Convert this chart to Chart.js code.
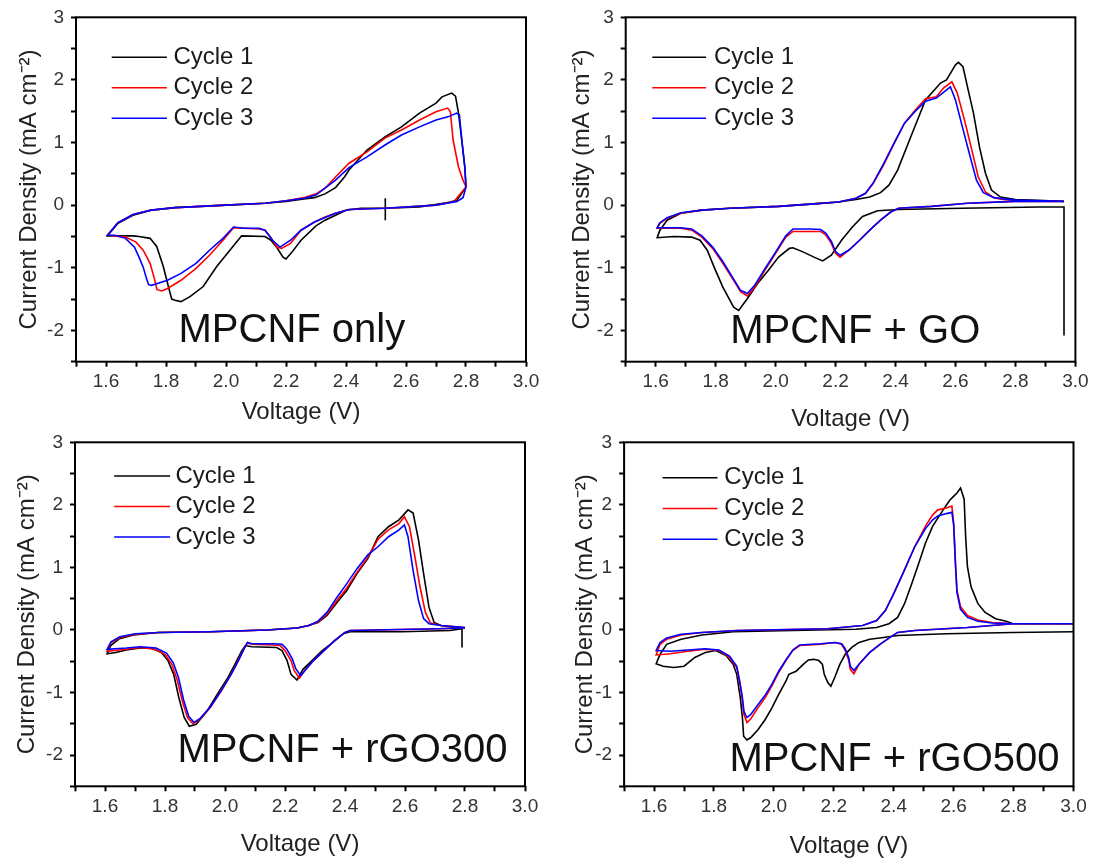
<!DOCTYPE html>
<html>
<head>
<meta charset="utf-8">
<script src="https://cdn.jsdelivr.net/npm/chart.js@4.4.1/dist/chart.umd.min.js"></script>
<style>
html,body{margin:0;padding:0;background:#fff;}
body{width:1096px;height:862px;position:relative;overflow:hidden;}
canvas{position:absolute;}
</style>
</head>
<body>
<canvas id="c1"></canvas>
<canvas id="c2"></canvas>
<canvas id="c3"></canvas>
<canvas id="c4"></canvas>
<script>
// ---------------- DATA (voltage V, current density mA cm^-2) ----------------
const cycleLabels = ['Cycle 1', 'Cycle 2', 'Cycle 3'];
const panelTitles = ['MPCNF only', 'MPCNF + GO', 'MPCNF + rGO300', 'MPCNF + rGO500'];
const xTickValues = [1.6, 1.8, 2.0, 2.2, 2.4, 2.6, 2.8, 3.0];
const yTickValues = [3, 2, 1, 0, -1, -2];

// Panel 1: MPCNF only
const onlyCycle1 = [[2.531,0.11],[2.531,-0.24],[2.531,-0.05],[2.45,-0.05],[2.40,-0.08],[2.33,-0.24],[2.30,-0.33],[2.25,-0.56],[2.22,-0.75],[2.20,-0.86],[2.19,-0.83],[2.17,-0.68],[2.15,-0.56],[2.13,-0.5],[2.052,-0.49],[2.013,-0.72],[1.969,-0.98],[1.924,-1.3],[1.88,-1.46],[1.85,-1.54],[1.83,-1.52],[1.819,-1.5],[1.808,-1.3],[1.791,-0.98],[1.769,-0.66],[1.747,-0.53],[1.71,-0.5],[1.69,-0.49],[1.605,-0.49],[1.64,-0.29],[1.69,-0.16],[1.75,-0.08],[1.83,-0.04],[2.0,0.0],[2.13,0.03],[2.2,0.06],[2.26,0.1],[2.295,0.12],[2.33,0.18],[2.365,0.28],[2.395,0.45],[2.41,0.56],[2.47,0.88],[2.53,1.09],[2.585,1.25],[2.645,1.47],[2.70,1.63],[2.72,1.73],[2.752,1.79],[2.765,1.74],[2.775,1.47],[2.786,1.04],[2.796,0.61],[2.8,0.29],[2.77,0.08],[2.74,0.04],[2.645,-0.03],[2.531,-0.05]];
const onlyCycle2 = [[2.8,0.29],[2.76,0.06],[2.70,0.0],[2.53,-0.05],[2.41,-0.07],[2.365,-0.13],[2.33,-0.19],[2.295,-0.27],[2.25,-0.4],[2.215,-0.61],[2.185,-0.69],[2.17,-0.67],[2.15,-0.52],[2.13,-0.4],[2.11,-0.38],[2.06,-0.37],[2.025,-0.36],[1.99,-0.56],[1.945,-0.8],[1.90,-1.01],[1.85,-1.2],[1.805,-1.33],[1.786,-1.37],[1.77,-1.35],[1.76,-1.15],[1.747,-0.93],[1.724,-0.72],[1.70,-0.59],[1.665,-0.51],[1.605,-0.48],[1.64,-0.28],[1.69,-0.15],[1.75,-0.08],[1.83,-0.04],[2.0,0.0],[2.13,0.03],[2.2,0.07],[2.26,0.12],[2.30,0.18],[2.33,0.27],[2.365,0.45],[2.41,0.67],[2.47,0.85],[2.53,1.07],[2.585,1.2],[2.645,1.36],[2.70,1.49],[2.739,1.55],[2.748,1.49],[2.757,1.04],[2.775,0.61],[2.79,0.4],[2.8,0.29]];
const onlyCycle3 = [[2.8,0.29],[2.79,0.12],[2.77,0.06],[2.70,0.0],[2.53,-0.05],[2.41,-0.07],[2.365,-0.13],[2.295,-0.27],[2.25,-0.4],[2.215,-0.56],[2.18,-0.67],[2.155,-0.56],[2.13,-0.4],[2.11,-0.37],[2.06,-0.37],[2.025,-0.35],[1.99,-0.53],[1.945,-0.72],[1.90,-0.93],[1.85,-1.09],[1.805,-1.2],[1.752,-1.28],[1.742,-1.27],[1.735,-1.17],[1.724,-0.99],[1.71,-0.83],[1.695,-0.67],[1.665,-0.53],[1.63,-0.48],[1.605,-0.48],[1.64,-0.28],[1.69,-0.15],[1.75,-0.08],[1.83,-0.04],[2.0,0.0],[2.13,0.03],[2.2,0.07],[2.26,0.11],[2.30,0.16],[2.365,0.4],[2.41,0.6],[2.47,0.77],[2.53,0.96],[2.585,1.12],[2.645,1.25],[2.70,1.36],[2.74,1.41],[2.769,1.47],[2.778,1.44],[2.786,1.04],[2.796,0.61],[2.8,0.29]];

// Panel 2: MPCNF + GO
const goCycle1 = [[2.962,-2.08],[2.962,-0.03],[2.88,-0.03],[2.62,-0.05],[2.41,-0.07],[2.34,-0.09],[2.29,-0.18],[2.256,-0.35],[2.22,-0.56],[2.186,-0.8],[2.157,-0.89],[2.128,-0.83],[2.093,-0.75],[2.058,-0.68],[2.046,-0.69],[2.01,-0.83],[1.976,-1.04],[1.94,-1.25],[1.906,-1.49],[1.877,-1.68],[1.86,-1.63],[1.824,-1.31],[1.795,-0.99],[1.772,-0.72],[1.748,-0.56],[1.72,-0.51],[1.66,-0.5],[1.605,-0.52],[1.614,-0.4],[1.638,-0.24],[1.684,-0.13],[1.754,-0.08],[1.848,-0.05],[2.01,-0.02],[2.128,0.02],[2.21,0.05],[2.268,0.09],[2.314,0.13],[2.35,0.2],[2.378,0.32],[2.407,0.56],[2.45,1.08],[2.5,1.68],[2.55,1.95],[2.57,2.0],[2.6,2.24],[2.61,2.28],[2.625,2.21],[2.64,1.89],[2.66,1.47],[2.68,0.93],[2.70,0.51],[2.72,0.24],[2.75,0.13],[2.8,0.09],[2.962,0.06]];
const goCycle2 = [[2.962,0.06],[2.8,0.06],[2.64,0.03],[2.52,-0.02],[2.41,-0.05],[2.384,-0.11],[2.35,-0.24],[2.314,-0.4],[2.28,-0.56],[2.244,-0.72],[2.215,-0.83],[2.2,-0.77],[2.186,-0.61],[2.168,-0.48],[2.15,-0.42],[2.116,-0.42],[2.058,-0.42],[2.034,-0.51],[2.0,-0.77],[1.964,-1.04],[1.93,-1.31],[1.906,-1.45],[1.883,-1.38],[1.86,-1.2],[1.824,-0.93],[1.79,-0.69],[1.754,-0.51],[1.72,-0.4],[1.684,-0.37],[1.605,-0.37],[1.614,-0.29],[1.638,-0.21],[1.684,-0.13],[1.754,-0.08],[1.848,-0.05],[2.01,-0.02],[2.128,0.02],[2.21,0.05],[2.268,0.11],[2.30,0.19],[2.326,0.35],[2.36,0.64],[2.396,0.99],[2.43,1.31],[2.466,1.52],[2.5,1.7],[2.536,1.73],[2.56,1.87],[2.588,1.97],[2.606,1.79],[2.63,1.36],[2.652,0.93],[2.676,0.45],[2.70,0.21],[2.728,0.12],[2.757,0.09],[2.8,0.07],[2.962,0.06]];
const goCycle3 = [[2.962,0.06],[2.8,0.06],[2.64,0.03],[2.52,-0.02],[2.41,-0.05],[2.384,-0.11],[2.35,-0.24],[2.314,-0.4],[2.28,-0.56],[2.244,-0.72],[2.215,-0.8],[2.2,-0.74],[2.186,-0.58],[2.168,-0.45],[2.15,-0.39],[2.116,-0.38],[2.058,-0.38],[2.034,-0.49],[2.0,-0.75],[1.964,-1.02],[1.93,-1.28],[1.906,-1.41],[1.883,-1.36],[1.86,-1.18],[1.824,-0.9],[1.79,-0.67],[1.754,-0.49],[1.72,-0.38],[1.684,-0.36],[1.605,-0.36],[1.614,-0.28],[1.638,-0.2],[1.684,-0.12],[1.754,-0.08],[1.848,-0.05],[2.01,-0.02],[2.128,0.02],[2.21,0.05],[2.268,0.11],[2.30,0.19],[2.326,0.36],[2.36,0.66],[2.396,1.0],[2.43,1.31],[2.466,1.5],[2.5,1.66],[2.536,1.71],[2.56,1.8],[2.583,1.89],[2.6,1.68],[2.623,1.25],[2.646,0.83],[2.67,0.4],[2.693,0.2],[2.728,0.12],[2.8,0.08],[2.962,0.06]];

// Panel 3: MPCNF + rGO300
const rgo300Cycle1 = [[2.79,-0.28],[2.79,0.02],[2.75,-0.01],[2.59,-0.03],[2.417,-0.03],[2.394,-0.06],[2.36,-0.2],[2.324,-0.33],[2.29,-0.49],[2.26,-0.63],[2.24,-0.8],[2.22,-0.71],[2.207,-0.49],[2.19,-0.33],[2.172,-0.28],[2.09,-0.27],[2.068,-0.25],[2.056,-0.33],[2.033,-0.55],[2.01,-0.76],[1.974,-1.03],[1.94,-1.3],[1.904,-1.51],[1.881,-1.54],[1.864,-1.4],[1.846,-1.08],[1.829,-0.71],[1.81,-0.49],[1.788,-0.36],[1.753,-0.29],[1.718,-0.29],[1.671,-0.32],[1.636,-0.36],[1.607,-0.38],[1.619,-0.25],[1.648,-0.14],[1.695,-0.08],[1.776,-0.04],[1.951,-0.03],[2.138,0.0],[2.242,0.03],[2.277,0.07],[2.31,0.12],[2.34,0.23],[2.37,0.42],[2.406,0.63],[2.44,0.9],[2.476,1.14],[2.51,1.49],[2.545,1.65],[2.58,1.76],[2.61,1.92],[2.627,1.87],[2.645,1.44],[2.662,0.9],[2.68,0.36],[2.697,0.12],[2.72,0.07],[2.79,0.02]];
const rgo300Cycle2 = [[2.8,0.03],[2.71,0.02],[2.417,-0.01],[2.4,-0.04],[2.365,-0.17],[2.33,-0.33],[2.295,-0.49],[2.266,-0.65],[2.248,-0.77],[2.231,-0.65],[2.22,-0.49],[2.2,-0.33],[2.184,-0.25],[2.16,-0.24],[2.09,-0.23],[2.073,-0.21],[2.062,-0.31],[2.044,-0.49],[2.02,-0.71],[1.986,-0.98],[1.951,-1.24],[1.916,-1.43],[1.893,-1.5],[1.875,-1.4],[1.858,-1.14],[1.84,-0.79],[1.823,-0.55],[1.8,-0.39],[1.765,-0.31],[1.718,-0.28],[1.671,-0.31],[1.607,-0.34],[1.62,-0.2],[1.65,-0.12],[1.7,-0.07],[1.78,-0.04],[1.95,-0.03],[2.14,0.0],[2.24,0.03],[2.28,0.07],[2.31,0.13],[2.34,0.25],[2.37,0.45],[2.406,0.67],[2.44,0.92],[2.476,1.16],[2.51,1.45],[2.545,1.6],[2.58,1.7],[2.598,1.81],[2.615,1.65],[2.633,1.17],[2.65,0.69],[2.668,0.28],[2.685,0.11],[2.72,0.07],[2.8,0.04]];
const rgo300Cycle3 = [[2.8,0.03],[2.71,0.02],[2.417,-0.01],[2.4,-0.04],[2.365,-0.17],[2.33,-0.33],[2.295,-0.49],[2.27,-0.63],[2.252,-0.73],[2.236,-0.62],[2.224,-0.46],[2.205,-0.3],[2.19,-0.23],[2.165,-0.22],[2.09,-0.22],[2.075,-0.2],[2.064,-0.3],[2.046,-0.48],[2.022,-0.7],[1.988,-0.97],[1.953,-1.22],[1.918,-1.41],[1.897,-1.48],[1.879,-1.38],[1.862,-1.12],[1.845,-0.76],[1.828,-0.53],[1.805,-0.37],[1.77,-0.29],[1.718,-0.27],[1.671,-0.29],[1.607,-0.31],[1.62,-0.19],[1.65,-0.11],[1.7,-0.06],[1.78,-0.04],[1.95,-0.03],[2.14,0.0],[2.24,0.03],[2.28,0.07],[2.31,0.14],[2.34,0.28],[2.37,0.5],[2.406,0.74],[2.44,0.98],[2.476,1.2],[2.51,1.33],[2.545,1.49],[2.58,1.6],[2.598,1.68],[2.61,1.49],[2.627,0.95],[2.645,0.47],[2.662,0.18],[2.68,0.1],[2.72,0.07],[2.8,0.04]];

// Panel 4: MPCNF + rGO500
const rgo500Cycle1 = [[3.0,-0.03],[2.798,-0.04],[2.576,-0.06],[2.413,-0.09],[2.366,-0.12],[2.32,-0.15],[2.284,-0.2],[2.26,-0.28],[2.238,-0.39],[2.22,-0.55],[2.203,-0.76],[2.19,-0.9],[2.18,-0.84],[2.168,-0.71],[2.162,-0.55],[2.15,-0.49],[2.133,-0.47],[2.115,-0.48],[2.098,-0.55],[2.074,-0.66],[2.05,-0.71],[2.04,-0.82],[2.016,-1.03],[1.993,-1.25],[1.97,-1.44],[1.946,-1.6],[1.923,-1.72],[1.91,-1.76],[1.899,-1.7],[1.895,-1.41],[1.888,-1.09],[1.876,-0.71],[1.864,-0.55],[1.84,-0.41],[1.806,-0.33],[1.771,-0.36],[1.736,-0.44],[1.7,-0.58],[1.666,-0.6],[1.63,-0.58],[1.607,-0.54],[1.62,-0.39],[1.642,-0.23],[1.69,-0.15],[1.76,-0.08],[1.864,-0.03],[2.063,-0.01],[2.273,0.01],[2.343,0.04],[2.384,0.1],[2.413,0.2],[2.436,0.42],[2.46,0.74],[2.483,1.06],[2.506,1.39],[2.53,1.66],[2.565,1.92],[2.588,2.08],[2.611,2.19],[2.623,2.27],[2.635,2.09],[2.64,1.49],[2.646,1.01],[2.658,0.69],[2.681,0.42],[2.705,0.28],[2.74,0.18],[2.775,0.14],[2.798,0.1],[3.0,0.1]];
const rgo500Cycle2 = [[3.0,0.1],[2.798,0.1],[2.646,0.04],[2.47,-0.01],[2.413,-0.04],[2.39,-0.11],[2.354,-0.23],[2.32,-0.36],[2.284,-0.55],[2.267,-0.7],[2.255,-0.63],[2.25,-0.49],[2.238,-0.33],[2.226,-0.23],[2.203,-0.2],[2.156,-0.23],[2.086,-0.25],[2.063,-0.33],[2.04,-0.49],[2.016,-0.68],[1.993,-0.9],[1.97,-1.09],[1.946,-1.25],[1.923,-1.42],[1.91,-1.48],[1.9,-1.35],[1.894,-1.09],[1.885,-0.82],[1.876,-0.6],[1.852,-0.44],[1.817,-0.33],[1.77,-0.31],[1.712,-0.34],[1.654,-0.38],[1.607,-0.4],[1.62,-0.23],[1.642,-0.15],[1.69,-0.08],[1.76,-0.04],[1.876,-0.01],[2.18,0.02],[2.296,0.07],[2.343,0.15],[2.372,0.31],[2.4,0.58],[2.436,0.96],[2.47,1.33],[2.506,1.66],[2.53,1.84],[2.547,1.92],[2.576,1.95],[2.594,1.98],[2.6,1.71],[2.606,1.06],[2.611,0.63],[2.623,0.37],[2.646,0.23],[2.681,0.16],[2.728,0.12],[2.798,0.1],[3.0,0.1]];
const rgo500Cycle3 = [[3.0,0.1],[2.798,0.1],[2.646,0.04],[2.47,-0.01],[2.413,-0.04],[2.39,-0.11],[2.354,-0.23],[2.32,-0.36],[2.284,-0.55],[2.267,-0.65],[2.255,-0.58],[2.25,-0.45],[2.238,-0.3],[2.226,-0.22],[2.203,-0.2],[2.156,-0.22],[2.086,-0.24],[2.063,-0.32],[2.04,-0.48],[2.016,-0.66],[1.993,-0.87],[1.97,-1.05],[1.946,-1.2],[1.923,-1.35],[1.91,-1.4],[1.9,-1.3],[1.894,-1.05],[1.885,-0.8],[1.876,-0.58],[1.852,-0.42],[1.817,-0.32],[1.77,-0.3],[1.712,-0.32],[1.654,-0.34],[1.607,-0.33],[1.62,-0.2],[1.642,-0.13],[1.69,-0.07],[1.76,-0.04],[1.876,-0.01],[2.18,0.02],[2.296,0.07],[2.343,0.15],[2.372,0.31],[2.4,0.58],[2.436,0.96],[2.47,1.33],[2.506,1.62],[2.53,1.76],[2.547,1.82],[2.576,1.86],[2.594,1.88],[2.6,1.68],[2.606,1.06],[2.611,0.6],[2.623,0.33],[2.646,0.2],[2.681,0.14],[2.728,0.11],[2.798,0.1],[3.0,0.1]];

const panelData = [
  [onlyCycle1, onlyCycle2, onlyCycle3],
  [goCycle1, goCycle2, goCycle3],
  [rgo300Cycle1, rgo300Cycle2, rgo300Cycle3],
  [rgo500Cycle1, rgo500Cycle2, rgo500Cycle3]
];

// ---------------- LAYOUT / STYLE ----------------
const cycleColors = ['#000000', '#ff0000', '#0000ff'];
const FONT = "'Liberation Sans', Arial, Helvetica, sans-serif";

const panels = [
  {id:'c1', left:0,   top:0,   w:548, h:431, yw:76,   tp:17.3, rp:22,   xh:69.3, xtp:4.6, ytp:14.6,
   leg:{x0:35.7, x1:90.9, tx:97.4, y0:40, dy:30.5}, lab:{dx:102.5, dy:20}},
  {id:'c2', left:548, top:0,   w:548, h:440, yw:77.7, tp:17.3, rp:20.6, xh:78.3, xtp:6.6, ytp:19.6,
   leg:{x0:26.6, x1:80.4, tx:88.3, y0:40, dy:30.5}, lab:{dx:104.6, dy:19}},
  {id:'c3', left:0,   top:431, w:548, h:431, yw:75,   tp:11.3, rp:23,   xh:75.7, xtp:3.3, ytp:13.3,
   leg:{x0:39.2, x1:95.1, tx:100.5, y0:33.7, dy:30.5}, lab:{dx:102.5, dy:24.6}},
  {id:'c4', left:548, top:431, w:548, h:431, yw:76.1, tp:11.3, rp:22.5, xh:75.7, xtp:1.6, ytp:23.1,
   leg:{x0:38.5, x1:93.4, tx:100.2, y0:35.4, dy:30.8}, lab:{dx:105.3, dy:15.3}}
];

const framePlugin = {
  id: 'frame',
  afterDraw(chart) {
    const {ctx, chartArea: a} = chart;
    ctx.save();
    ctx.strokeStyle = '#000';
    ctx.lineWidth = 2;
    ctx.strokeRect(a.left, a.top, a.right - a.left, a.bottom - a.top);
    ctx.restore();
  }
};

const cvLegendPlugin = {
  id: 'cvLegend',
  afterDraw(chart, args, opts) {
    const {ctx, chartArea: a} = chart;
    ctx.save();
    chart.data.datasets.forEach((ds, i) => {
      const y = a.top + opts.y0 + i * opts.dy;
      ctx.strokeStyle = ds.borderColor;
      ctx.lineWidth = 1.6;
      ctx.beginPath();
      ctx.moveTo(a.left + opts.x0, y);
      ctx.lineTo(a.left + opts.x1, y);
      ctx.stroke();
      ctx.fillStyle = '#1a1a1a';
      ctx.font = '24px ' + FONT;
      ctx.textBaseline = 'middle';
      ctx.textAlign = 'left';
      ctx.fillText(ds.label, a.left + opts.tx, y);
    });
    ctx.restore();
  }
};

const panelLabelPlugin = {
  id: 'panelLabel',
  afterDraw(chart, args, opts) {
    const {ctx, chartArea: a} = chart;
    ctx.save();
    ctx.fillStyle = '#111';
    ctx.font = '40px ' + FONT;
    ctx.textBaseline = 'alphabetic';
    ctx.textAlign = 'left';
    ctx.fillText(opts.text, a.left + opts.dx, a.bottom - opts.dy);
    ctx.restore();
  }
};

panels.forEach((p, pi) => {
  const cv = document.getElementById(p.id);
  cv.width = p.w; cv.height = p.h;
  cv.style.left = p.left + 'px'; cv.style.top = p.top + 'px';
  cv.style.width = p.w + 'px'; cv.style.height = p.h + 'px';

  const datasets = panelData[pi].map((arr, ci) => ({
    label: cycleLabels[ci],
    data: arr.map(([v, j]) => ({x: v, y: j})),
    borderColor: cycleColors[ci],
    backgroundColor: cycleColors[ci],
    borderWidth: 1.6,
    pointRadius: 0,
    showLine: true,
    tension: 0,
    fill: false,
    order: 2 - ci
  }));

  new Chart(cv, {
    type: 'scatter',
    data: {datasets},
    options: {
      responsive: false,
      animation: false,
      events: [],
      devicePixelRatio: 1,
      layout: {padding: {left: 0, top: p.tp, right: p.rp, bottom: 0}},
      plugins: {
        legend: {display: false},
        tooltip: {enabled: false},
        cvLegend: p.leg,
        panelLabel: {text: panelTitles[pi], dx: p.lab.dx, dy: p.lab.dy}
      },
      scales: {
        x: {
          type: 'linear', min: 1.5, max: 3.0,
          border: {display: false},
          grid: {display: true, drawOnChartArea: false, drawTicks: true, tickLength: 5, tickWidth: 2, tickColor: '#000'},
          ticks: {
            stepSize: 0.1, autoSkip: false, maxRotation: 0, padding: 4,
            color: '#333', font: {family: FONT, size: 19},
            callback: (v) => {
              const k = Math.round(v * 10);
              const s = (k / 10).toFixed(1);
              return xTickValues.some(t => Math.abs(t - k / 10) < 1e-6) ? s : '';
            }
          },
          title: {display: true, text: 'Voltage (V)', color: '#222', font: {family: FONT, size: 24}, padding: {top: 0, bottom: p.xtp}},
          afterFit: (s) => { s.height = p.xh; s.paddingLeft = 0; s.paddingRight = 0; }
        },
        y: {
          type: 'linear', min: -2.5, max: 3,
          border: {display: false},
          grid: {display: true, drawOnChartArea: false, drawTicks: true, tickLength: 5, tickWidth: 2, tickColor: '#000'},
          ticks: {
            stepSize: 0.5, autoSkip: false, padding: 7,
            color: '#333', font: {family: FONT, size: 19},
            callback: (v) => {
              const k = Math.round(v * 2) / 2;
              return yTickValues.includes(k) ? String(k) : '';
            }
          },
          title: {display: true, text: 'Current Density (mA cm\u207B\u00B2)', color: '#222', font: {family: FONT, size: 24}, padding: {top: p.ytp, bottom: 0}},
          afterFit: (s) => { s.width = p.yw; s.paddingTop = 0; s.paddingBottom = 0; }
        }
      }
    },
    plugins: [framePlugin, cvLegendPlugin, panelLabelPlugin]
  });
});
</script>
</body>
</html>
